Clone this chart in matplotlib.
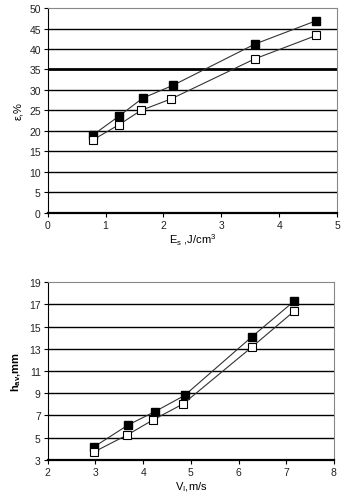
import matplotlib
matplotlib.use("Agg")
import matplotlib.pyplot as plt
import matplotlib.ticker as ticker

# top panel: strain vs specific energy
es = [0.79, 1.24, 1.64, 2.16, 3.58, 4.64]
eps_filled = [19.1, 23.7, 28.0, 31.1, 41.2, 46.9]
es_open = [0.79, 1.23, 1.61, 2.13, 3.58, 4.64]
eps_open = [17.9, 21.5, 25.0, 27.8, 37.6, 43.3]

# bottom panel: depth vs impact velocity
vi = [2.96, 3.69, 4.25, 4.87, 6.28, 7.17]
hav_filled = [4.14, 6.15, 7.35, 8.8, 14.08, 17.3]
vi_open = [2.96, 3.67, 4.21, 4.84, 6.28, 7.16]
hav_open = [3.69, 5.25, 6.6, 8.04, 13.15, 16.36]

plt.rcParams["font.family"] = ["Liberation Sans", "DejaVu Sans"]
plt.rcParams["font.size"] = 7.5
plt.rcParams["mathtext.fontset"] = "custom"
plt.rcParams["mathtext.rm"] = "Liberation Sans"
plt.rcParams["mathtext.it"] = "Liberation Sans"
plt.rcParams["mathtext.bf"] = "Liberation Sans:bold"

fig = plt.figure(figsize=(3.46, 5.02), dpi=100)
ax1 = fig.add_axes([0.138, 0.574, 0.836, 0.408])
ax2 = fig.add_axes([0.138, 0.082, 0.827, 0.354])


def style(ax, yticks, thick=None):
    for y in yticks[1:-1]:
        lw = 2.0 if y == thick else 1.0
        ax.axhline(y, color="black", lw=lw, zorder=1)
    ax.spines["top"].set_color("#888888")
    ax.spines["right"].set_color("#888888")
    ax.spines["top"].set_linewidth(0.8)
    ax.spines["right"].set_linewidth(0.8)
    ax.spines["left"].set_linewidth(0.8)
    ax.spines["bottom"].set_linewidth(1.6)
    ax.tick_params(direction="out", length=3, width=0.8, pad=2,
                   colors="black", labelcolor="#222222")
    ax.set_yticks(yticks)


def draw(ax, x1, y1, x2, y2):
    ax.plot(x1, y1, color="#333333", lw=0.8, marker="s", ms=5.5,
            mfc="black", mec="black", zorder=3)
    ax.plot(x2, y2, color="#333333", lw=0.8, marker="s", ms=5.5,
            mfc="white", mec="black", mew=0.8, zorder=3)


draw(ax1, es, eps_filled, es_open, eps_open)
ax1.set_xlim(0, 5)
ax1.set_ylim(0, 50)
style(ax1, list(range(0, 51, 5)), thick=35)
ax1.xaxis.set_major_locator(ticker.MultipleLocator(1))
ax1.set_xlabel(r"E$_\mathrm{s}$ ,J/cm$^3$", fontsize=8, labelpad=1)
ax1.set_ylabel("ε,%", fontsize=8, labelpad=4)

draw(ax2, vi, hav_filled, vi_open, hav_open)
ax2.set_xlim(2, 8)
ax2.set_ylim(3, 19)
style(ax2, list(range(3, 20, 2)))
ax2.xaxis.set_major_locator(ticker.MultipleLocator(1))
ax2.set_xlabel(r"V$_\mathrm{I}$,m/s", fontsize=8, labelpad=2)
ax2.set_ylabel(r"h$_\mathbf{av}$,mm", fontsize=8, fontweight="bold", labelpad=4)

fig.savefig("out.png", dpi=100)
